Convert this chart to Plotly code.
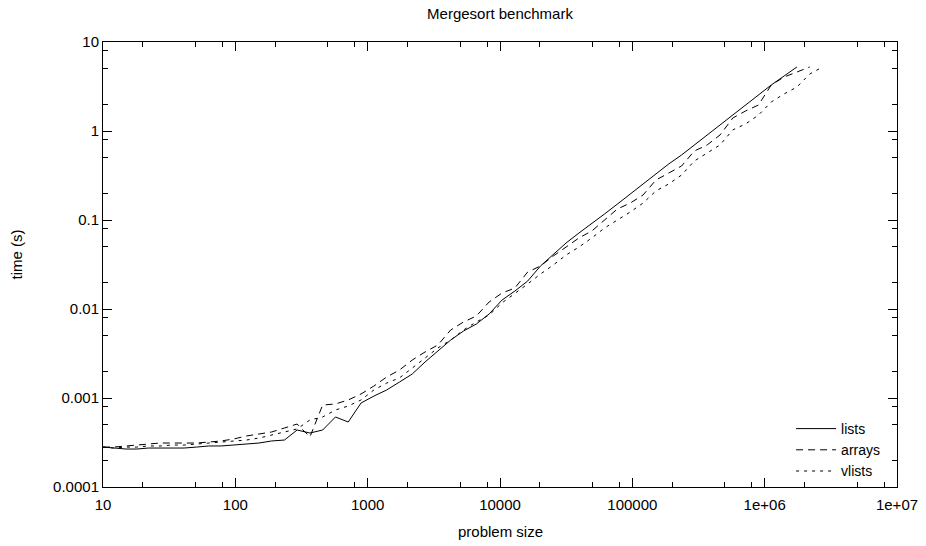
import plotly.graph_objects as go

# problem sizes (x values)
sizes = [10, 12, 15, 18, 22, 27, 33, 41, 51, 63, 78, 97, 121, 151, 188, 235, 293,
         366, 457, 571, 713, 891, 1113, 1391, 1738, 2172, 2715, 3393, 4241, 5301,
         6626, 8282, 10352, 12940, 16175, 20218, 25272, 31590, 39487, 49358, 61697,
         77121, 96401, 120501, 150626, 188282, 235352, 294190, 367737, 459671,
         574588, 718235, 897793, 1122241, 1402801, 1753501, 2191876, 2739845]

# times in seconds
lists_t = [2.81e-4, 2.74e-4, 2.67e-4, 2.67e-4, 2.74e-4, 2.74e-4, 2.74e-4, 2.74e-4,
           2.81e-4, 2.89e-4, 2.89e-4, 2.96e-4, 3.04e-4, 3.12e-4, 3.29e-4, 3.37e-4,
           4.37e-4, 4.04e-4, 4.37e-4, 6.12e-4, 5.37e-4, 8.78e-4,
           1.05e-3, 1.23e-3, 1.51e-3, 1.86e-3, 2.54e-3, 3.37e-3, 4.48e-3, 5.66e-3,
           6.78e-3, 8.79e-3,
           1.26e-2, 1.59e-2, 2.06e-2, 3.04e-2, 4.15e-2, 5.52e-2, 7.14e-2, 9.25e-2,
           0.117, 0.151, 0.196, 0.254, 0.329, 0.426, 0.537, 0.697, 0.902,
           1.17, 1.51, 1.96, 2.54, 3.29, 4.15, 5.24]

arrays_t = [2.81e-4, 2.81e-4, 2.89e-4, 2.96e-4, 3.04e-4, 3.12e-4, 3.12e-4, 3.12e-4,
            3.12e-4, 3.20e-4, 3.29e-4, 3.46e-4, 3.74e-4, 3.94e-4, 4.15e-4, 4.60e-4,
            5.10e-4, 3.65e-4, 8.34e-4, 8.57e-4, 9.50e-4,
            1.11e-3, 1.36e-3, 1.72e-3, 2.06e-3, 2.67e-3, 3.29e-3, 3.94e-3, 5.81e-3,
            7.15e-3, 8.34e-3,
            1.20e-2, 1.51e-2, 1.72e-2, 2.60e-2, 3.04e-2, 3.94e-2, 4.97e-2, 6.28e-2,
            7.52e-2, 0.100, 0.133, 0.155, 0.191, 0.281, 0.337, 0.404, 0.596, 0.697,
            0.902, 1.40, 1.68, 1.96, 3.29, 4.04, 4.60, 5.24]

vlists_t = [2.81e-4, 2.74e-4, 2.81e-4, 2.81e-4, 2.89e-4, 2.89e-4, 2.96e-4, 2.96e-4,
            3.04e-4, 3.12e-4, 3.20e-4, 3.29e-4, 3.37e-4, 3.55e-4, 3.84e-4, 4.15e-4,
            4.49e-4, 5.66e-4, 6.12e-4, 7.33e-4, 8.13e-4, 9.50e-4,
            1.23e-3, 1.47e-3, 1.68e-3, 2.17e-3, 2.81e-3, 3.65e-3, 4.48e-3, 5.81e-3,
            7.15e-3, 8.57e-3,
            1.17e-2, 1.48e-2, 1.91e-2, 2.47e-2, 3.12e-2, 4.04e-2, 4.97e-2, 6.28e-2,
            8.13e-2, 0.100, 0.123, 0.155, 0.212, 0.254, 0.320, 0.460, 0.566, 0.697,
            1.03, 1.20, 1.51, 2.12, 2.61, 3.12, 4.37, 5.24]

x_tickvals = [10, 100, 1000, 10000, 100000, 1e6, 1e7]
x_ticktext = ["10", "100", "1000", "10000", "100000", "1e+06", "1e+07"]
y_tickvals = [1e-4, 1e-3, 1e-2, 1e-1, 1, 10]
y_ticktext = ["0.0001", "0.001", "0.01", "0.1", "1", "10"]
x_minor = [m * 10 ** e for e in range(1, 7) for m in (2, 5, 8)]
y_minor = [m * 10.0 ** e for e in range(-4, 1) for m in (2, 5, 8)]

FONT = "Liberation Sans, Arial, sans-serif"
FS = 15

fig = go.Figure()
fig.add_trace(go.Scatter(x=sizes[:len(lists_t)], y=lists_t, mode="lines", name="lists",
                         line=dict(color="black", width=1)))
fig.add_trace(go.Scatter(x=sizes[:len(arrays_t)], y=arrays_t, mode="lines", name="arrays",
                         line=dict(color="black", width=1, dash="7px,5px")))
fig.add_trace(go.Scatter(x=sizes[:len(vlists_t)], y=vlists_t, mode="lines", name="vlists",
                         line=dict(color="black", width=1, dash="3px,5px")))

axis_common = dict(
    type="log", showgrid=False, zeroline=False, showline=True, linecolor="black",
    linewidth=1, mirror="ticks", ticks="inside", ticklen=9, tickwidth=1,
    tickcolor="black", tickmode="array", automargin=False,
    tickfont=dict(family=FONT, size=FS, color="black"),
)

fig.update_layout(
    width=926, height=546,
    margin=dict(l=103, r=29, t=42, b=59, autoexpand=False),
    plot_bgcolor="white", paper_bgcolor="white",
    font=dict(family=FONT, size=FS, color="black"),
    title=dict(text="Mergesort benchmark", x=0.5, xref="paper", xanchor="center",
               y=1 - 14 / 546, yref="container", yanchor="middle",
               font=dict(family=FONT, size=FS, color="black")),
    xaxis=dict(axis_common, range=[1, 7], tickvals=x_tickvals, ticktext=x_ticktext,
               ticklabelstandoff=4,
               minor=dict(tickmode="array", tickvals=x_minor, ticks="inside",
                          ticklen=5, tickwidth=1, tickcolor="black", showgrid=False)),
    yaxis=dict(axis_common, range=[-4, 1], tickvals=y_tickvals, ticktext=y_ticktext,
               minor=dict(tickmode="array", tickvals=y_minor, ticks="inside",
                          ticklen=5, tickwidth=1, tickcolor="black", showgrid=False)),
    legend=dict(x=0.985, y=0.0, xanchor="right", yanchor="bottom",
                bgcolor="rgba(0,0,0,0)", borderwidth=0,
                font=dict(family=FONT, size=14, color="black"),
                tracegroupgap=0, itemwidth=40),
    showlegend=True,
    annotations=[
        dict(text="problem size", xref="paper", yref="paper", x=0.5, y=0,
             yshift=-44, xanchor="center", yanchor="middle", showarrow=False,
             font=dict(family=FONT, size=FS, color="black")),
        dict(text="time (s)", xref="paper", yref="paper", x=0, y=0.5,
             xshift=-87, yshift=10, xanchor="center", yanchor="middle",
             textangle=-90, showarrow=False,
             font=dict(family=FONT, size=FS, color="black")),
    ],
)

fig.write_html("out.html", config={"displayModeBar": False},
               post_script="document.body.style.margin='0px';")
